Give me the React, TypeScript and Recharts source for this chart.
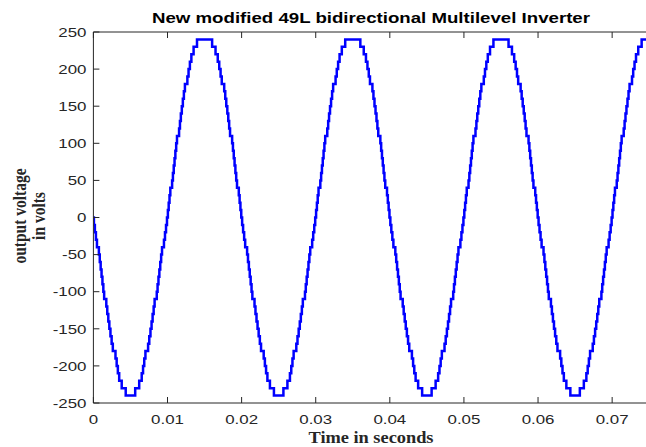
import React from 'react';
import { LineChart, Line, XAxis, YAxis, Label } from 'recharts';

// Fundamental period of the 50 Hz output and number of cycles drawn
const PERIOD_S = 0.02;
const CYCLES = 4;

// Output voltage levels of one quarter wave (volts), 24 steps of 10 V
const LEVELS = [10, 20, 30, 40, 50, 60, 70, 80, 90, 100, 110, 120, 130, 140, 150, 160, 170, 180, 190, 200, 210, 220, 230, 240];

// Switching instants (ms from the zero crossing) at which each level is reached
const NEG_SWITCH_MS = [0.07, 0.2, 0.34, 0.48, 0.74, 0.86, 0.98, 1.1, 1.22, 1.34, 1.45, 1.74, 1.87, 2.01, 2.15, 2.3, 2.46, 2.62, 2.98, 3.14, 3.3, 3.48, 3.82, 4.36];
const POS_SWITCH_MS = [0.05, 0.16, 0.27, 0.38, 0.62, 0.73, 0.84, 0.95, 1.06, 1.17, 1.28, 1.56, 1.68, 1.8, 1.93, 2.07, 2.21, 2.35, 2.68, 2.84, 3.02, 3.22, 3.52, 3.98];

const X_TICKS = [0, 0.01, 0.02, 0.03, 0.04, 0.05, 0.06, 0.07];
const Y_TICKS = [-250, -200, -150, -100, -50, 0, 50, 100, 150, 200, 250];

type Pt = { t: number; v: number };

// Staircase waveform: each point holds its level until the next switching instant
function buildWaveform(): Pt[] {
  const pts: Pt[] = [{ t: 0, v: 0 }];
  const half = PERIOD_S / 2;
  for (let c = 0; c < CYCLES; c++) {
    const base = c * PERIOD_S;
    for (let k = 0; k < LEVELS.length; k++) pts.push({ t: base + NEG_SWITCH_MS[k] / 1000, v: -LEVELS[k] });
    for (let k = LEVELS.length - 1; k >= 0; k--) pts.push({ t: base + half - NEG_SWITCH_MS[k] / 1000, v: k > 0 ? -LEVELS[k - 1] : 0 });
    for (let k = 0; k < LEVELS.length; k++) pts.push({ t: base + half + POS_SWITCH_MS[k] / 1000, v: LEVELS[k] });
    for (let k = LEVELS.length - 1; k >= 0; k--) pts.push({ t: base + PERIOD_S - POS_SWITCH_MS[k] / 1000, v: k > 0 ? LEVELS[k - 1] : 0 });
  }
  return pts;
}

const data = buildWaveform();

const AXIS_COLOR = '#262626';
const SANS = '"Liberation Sans", Arial, sans-serif';
const SERIF = '"Liberation Serif", "Times New Roman", serif';
const TEXT_STRETCH = 1.25;
const TICK_LEN = 6;

const fmtX = (v: number) => (v === 0 ? '0' : String(Number(v.toFixed(2))));

// Widen glyphs horizontally around an anchor point
const stretchAt = (x: number) => `translate(${x} 0) scale(${TEXT_STRETCH} 1) translate(${-x} 0)`;

// Bottom axis: inward tick mark plus label below the axis
const BottomTick = (props: any) => {
  const { x, y, payload } = props;
  return (
    <g>
      <line x1={x} x2={x} y1={y} y2={y - TICK_LEN} stroke={AXIS_COLOR} strokeWidth={1} />
      <text x={x} y={y + 21} textAnchor="middle" fill={AXIS_COLOR} fontSize={13.5} fontFamily={SANS} transform={stretchAt(x)}>
        {fmtX(payload.value)}
      </text>
    </g>
  );
};

// Top axis: inward tick mark only
const TopTick = (props: any) => {
  const { x, y } = props;
  return <line x1={x} x2={x} y1={y} y2={y + TICK_LEN} stroke={AXIS_COLOR} strokeWidth={1} />;
};

// Left axis: inward tick mark plus right-aligned label
const LeftTick = (props: any) => {
  const { x, y, payload } = props;
  const lx = x - 7;
  return (
    <g>
      <line x1={x} x2={x + TICK_LEN} y1={y} y2={y} stroke={AXIS_COLOR} strokeWidth={1} />
      <text x={lx} y={y + 4.8} textAnchor="end" fill={AXIS_COLOR} fontSize={13.5} fontFamily={SANS} transform={stretchAt(lx)}>
        {payload.value}
      </text>
    </g>
  );
};

// Vertical axis title line, rotated and widened like the other text
const VerticalTitle = ({ cx, cy, text }: { cx: number; cy: number; text: string }) => (
  <text
    transform={`translate(${cx} ${cy}) scale(${TEXT_STRETCH} 1) rotate(-90)`}
    textAnchor="middle"
    dominantBaseline="central"
  >
    {text}
  </text>
);

export default function App() {
  return (
    <div style={{ position: 'absolute', left: 0, top: 0, width: 646, height: 447, overflow: 'hidden', background: '#fff' }}>
      <svg width={646} height={30} style={{ position: 'absolute', left: 0, top: 0 }}>
        <text
          x={371}
          y={23}
          textAnchor="middle"
          fontFamily={SANS}
          fontWeight="bold"
          fontSize={14.5}
          fill="#000"
          textLength={438}
          lengthAdjust="spacingAndGlyphs"
        >
          New modified 49L bidirectional Multilevel Inverter
        </text>
      </svg>
      <LineChart
        width={660}
        height={447}
        data={data}
        margin={{ top: 31, right: 10.8, bottom: 0, left: 0 }}
        style={{ position: 'absolute', left: 0, top: 0 }}
      >
        <XAxis
          xAxisId="top"
          orientation="top"
          dataKey="t"
          type="number"
          domain={[0, 0.075]}
          ticks={X_TICKS}
          allowDataOverflow
          height={1}
          tickLine={false}
          tickSize={0}
          tickMargin={0}
          tick={<TopTick />}
          stroke={AXIS_COLOR}
        />
        <XAxis
          dataKey="t"
          type="number"
          domain={[0, 0.075]}
          ticks={X_TICKS}
          allowDataOverflow
          height={44}
          tickLine={false}
          tickSize={0}
          tickMargin={0}
          tick={<BottomTick />}
          stroke={AXIS_COLOR}
        >
          <Label
            content={() => (
              <text
                x={371}
                y={443}
                textAnchor="middle"
                fontFamily={SERIF}
                fontWeight="bold"
                fontSize={16}
                fill="#262626"
                textLength={125}
                lengthAdjust="spacingAndGlyphs"
              >
                Time in seconds
              </text>
            )}
          />
        </XAxis>
        <YAxis
          domain={[-250, 250]}
          ticks={Y_TICKS}
          allowDataOverflow
          width={93.4}
          tickLine={false}
          tickSize={0}
          tickMargin={0}
          tick={<LeftTick />}
          stroke={AXIS_COLOR}
        >
          <Label
            content={() => (
              <g fontFamily={SERIF} fontWeight="bold" fontSize={15.5} fill="#262626">
                <VerticalTitle cx={19} cy={216} text="output voltage" />
                <VerticalTitle cx={38.5} cy={216} text="in volts" />
              </g>
            )}
          />
        </YAxis>
        <Line
          type="stepAfter"
          dataKey="v"
          stroke="#0000ff"
          strokeWidth={2.5}
          dot={false}
          isAnimationActive={false}
        />
      </LineChart>
    </div>
  );
}
